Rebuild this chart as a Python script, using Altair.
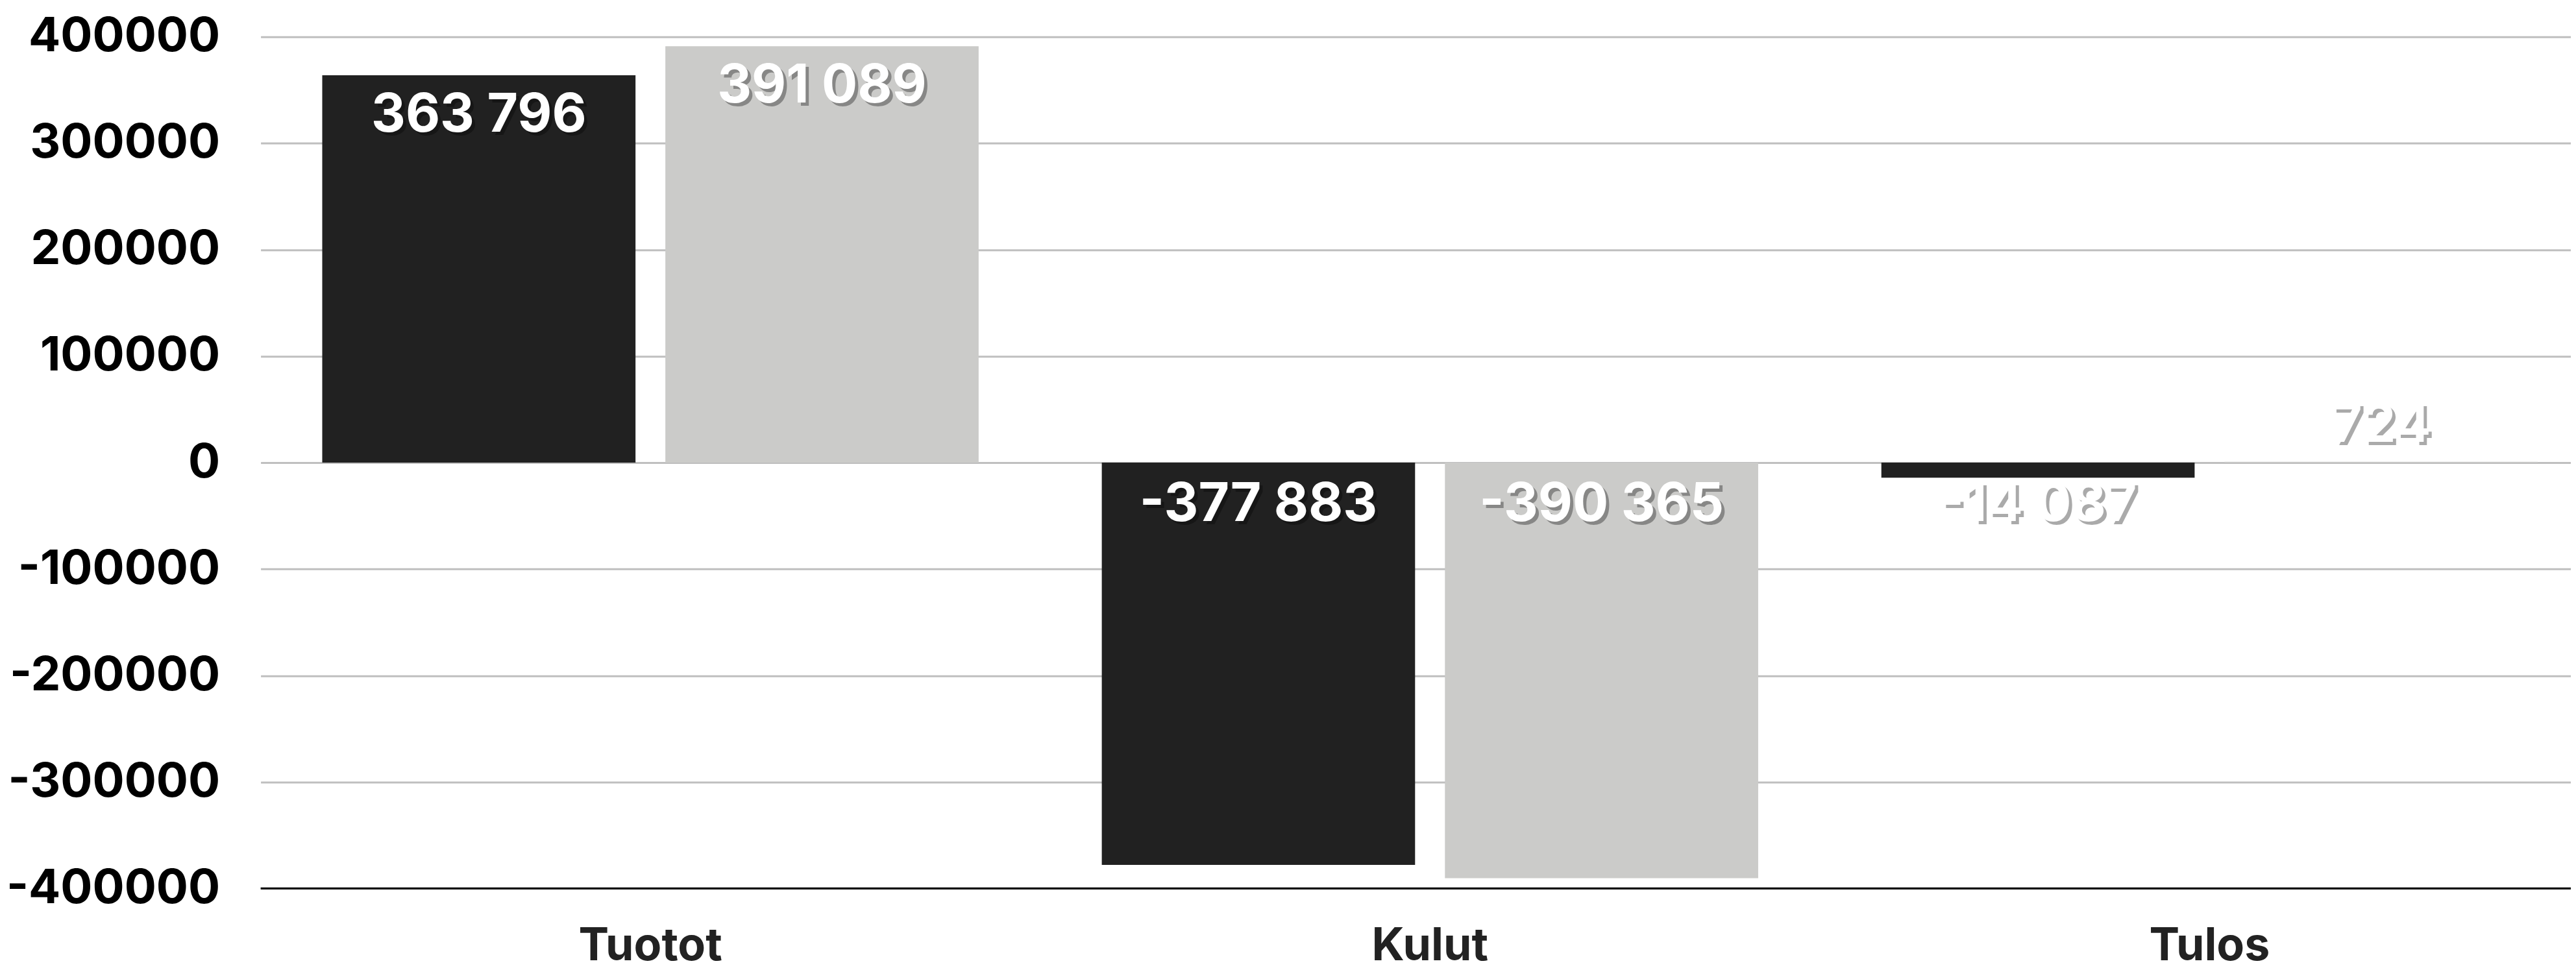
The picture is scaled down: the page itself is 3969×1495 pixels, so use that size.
import altair as alt
import pandas as pd

categories = ["Tuotot", "Kulut", "Tulos"]
series = ["Sarja 1", "Sarja 2"]
values_s1 = [363796, -377883, -14087]
values_s2 = [391089, -390365, 724]
y_ticks = [-400000, -300000, -200000, -100000, 0, 100000, 200000, 300000, 400000]
y_min = -400000
colors = ["#212121", "#cbcbc9"]

rows = []
for i, c in enumerate(categories):
    for s, vals in zip(series, [values_s1, values_s2]):
        v = vals[i]
        rows.append({"kategoria": c, "sarja": s, "arvo": v,
                     "teksti": f"{v:,}".replace(",", " ")})
df = pd.DataFrame(rows)

FONT = "Inter"

x_axis = alt.Axis(
    labelAngle=0, domain=False,
    ticks=False, tickSize=0, grid=False, labelFont=FONT, labelFontSize=70,
    labelFontWeight="bold", labelColor="#222222", labelBaseline="alphabetic",
    labelPadding=110, labelLimit=0, title=None,
)
y_axis = alt.Axis(
    values=y_ticks, labelExpr="'' + datum.value", domain=False, ticks=False,
    tickSize=0, labelPadding=63, labelFont=FONT, labelFontSize=73,
    labelFontWeight="bold", labelColor="#000000", labelLimit=0, grid=True,
    gridColor="#bfbfbf", gridWidth=3, title=None,
)

x_enc = alt.X("kategoria:N", sort=categories, axis=x_axis,
              scale=alt.Scale(paddingInner=0.158, paddingOuter=0.079, rangeMax=3607))
xo_enc = alt.XOffset("sarja:N", sort=series,
                     scale=alt.Scale(paddingInner=0.087, paddingOuter=0))
y_scale = alt.Scale(domain=[-400000, 400000], nice=False, zero=False)

base = alt.Chart(df)

bars = base.mark_bar().encode(
    x=x_enc,
    xOffset=xo_enc,
    y=alt.Y("arvo:Q", scale=y_scale, axis=y_axis),
    color=alt.Color("sarja:N", scale=alt.Scale(domain=series, range=colors), legend=None),
)

axis_line = alt.Chart(pd.DataFrame({"y": [y_min]})).mark_rule(
    color="#000000", strokeWidth=3
).encode(y=alt.Y("y:Q", scale=y_scale, axis=y_axis))


def label_layers(filt, dy):
    src = base.transform_filter(filt).transform_calculate(
        ankkuri="datum.arvo > 0 ? datum.arvo : 0"
    )
    enc = dict(
        x=x_enc,
        xOffset=xo_enc,
        y=alt.Y("ankkuri:Q", scale=y_scale, axis=y_axis),
        text="teksti:N",
    )
    shadow = src.mark_text(
        font=FONT, fontSize=82, fontWeight="bold", color="#000000", opacity=0.33,
        baseline="alphabetic", align="center", dx=5, dy=dy + 5,
    ).encode(**enc)
    front = src.mark_text(
        font=FONT, fontSize=82, fontWeight="bold", color="#ffffff",
        baseline="alphabetic", align="center", dy=dy,
    ).encode(**enc)
    return [shadow, front]


layers = [bars, axis_line]
layers += label_layers("datum.arvo > 50000", 87)
layers += label_layers("datum.arvo < 0", 90)
layers += label_layers("datum.arvo >= 0 && datum.arvo <= 50000", -31)

chart = alt.layer(*layers).properties(
    width=3563,
    height=1314,
    autosize=alt.AutoSizeParams(type="none"),
    padding={"left": 394, "top": 48, "right": 0, "bottom": 117},
    background="#ffffff",
).configure_view(
    stroke=None
)

chart.save("out.html", embed_options={"renderer": "svg", "actions": False})
